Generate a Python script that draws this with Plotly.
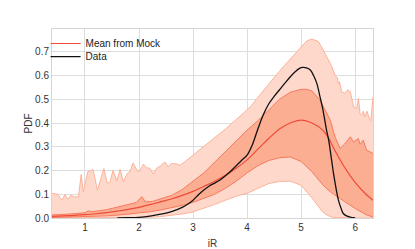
import plotly.graph_objects as go

# ---- data ----
x_grid = [0.39, 0.6, 0.8, 1.0, 1.2, 1.4, 1.6, 1.8, 2.0, 2.2, 2.4, 2.6, 2.8, 3.0, 3.2, 3.4,
          3.6, 3.8, 4.0, 4.2, 4.4, 4.6, 4.8, 5.0, 5.2, 5.4, 5.5, 5.6, 5.8, 6.0, 6.2, 6.33]
mean_mock = [0.007, 0.009, 0.011, 0.014, 0.018, 0.023, 0.029, 0.036, 0.045, 0.056, 0.068, 0.080,
             0.095, 0.112, 0.133, 0.155, 0.180, 0.210, 0.245, 0.290, 0.335, 0.375, 0.400, 0.412,
             0.400, 0.370, 0.340, 0.295, 0.215, 0.150, 0.100, 0.075]
inner_lo = [0.002, 0.003, 0.004, 0.005, 0.007, 0.009, 0.012, 0.016, 0.020, 0.026, 0.034, 0.042,
            0.053, 0.066, 0.082, 0.100, 0.125, 0.155, 0.190, 0.220, 0.242, 0.254, 0.257, 0.238,
            0.195, 0.140, 0.118, 0.100, 0.070, 0.040, 0.014, 0.004]
outer_lo = [0.0, 0.0, 0.0, 0.0, 0.0, 0.0, 0.0, 0.001, 0.002, 0.003, 0.006, 0.010,
            0.017, 0.026, 0.040, 0.057, 0.075, 0.092, 0.104, 0.125, 0.145, 0.154, 0.155, 0.138,
            0.085, 0.025, 0.010, 0.002, 0.0, 0.0, 0.0, 0.0]

x_inner_hi = [0.39, 0.6, 0.8, 1.0, 1.06, 1.1, 1.15, 1.4, 1.6, 1.8, 1.95, 2.05, 2.12, 2.25, 2.4,
              2.6, 2.8, 3.0, 3.2, 3.4, 3.6, 3.8, 4.0, 4.2, 4.4, 4.6, 4.8, 5.0, 5.1, 5.2, 5.35,
              5.54, 5.63, 5.72, 5.8, 5.91, 5.97, 6.06, 6.09, 6.15, 6.21, 6.33]
inner_hi = [0.013, 0.015, 0.018, 0.022, 0.030, 0.028, 0.027, 0.035, 0.045, 0.055, 0.065, 0.090,
            0.068, 0.070, 0.080, 0.095, 0.120, 0.155, 0.190, 0.235, 0.280, 0.325, 0.370, 0.410,
            0.455, 0.500, 0.530, 0.542, 0.542, 0.535, 0.497, 0.412, 0.340, 0.293, 0.310, 0.342,
            0.320, 0.335, 0.310, 0.328, 0.286, 0.272]

x_outer_hi = [0.39, 0.5, 0.57, 0.63, 0.68, 0.74, 0.80, 0.88, 0.93, 0.97, 1.05, 1.15, 1.23, 1.35,
              1.41, 1.46, 1.52, 1.59, 1.65, 1.71, 1.78, 1.83, 1.89, 1.97, 2.02, 2.08, 2.14, 2.20,
              2.26, 2.33, 2.40, 2.48, 2.54, 2.60, 2.70, 2.76, 2.88, 3.0, 3.2, 3.4, 3.6, 3.8, 4.06,
              4.36, 4.67, 4.98, 5.1, 5.2, 5.32, 5.44, 5.57, 5.63, 5.67, 5.69, 5.71, 5.75, 5.81,
              5.86, 5.91, 5.95, 5.97, 6.03, 6.06, 6.09, 6.12, 6.15, 6.18, 6.22, 6.26, 6.29, 6.33]
outer_hi = [0.103, 0.100, 0.075, 0.099, 0.078, 0.096, 0.089, 0.089, 0.183, 0.110, 0.194, 0.204,
            0.117, 0.208, 0.148, 0.149, 0.201, 0.156, 0.205, 0.152, 0.187, 0.194, 0.232, 0.198,
            0.198, 0.227, 0.211, 0.210, 0.187, 0.210, 0.220, 0.236, 0.215, 0.230, 0.227, 0.222,
            0.243, 0.265, 0.300, 0.340, 0.375, 0.415, 0.468, 0.553, 0.637, 0.715, 0.745, 0.754,
            0.743, 0.694, 0.637, 0.600, 0.590, 0.565, 0.575, 0.532, 0.525, 0.540, 0.532, 0.490,
            0.468, 0.460, 0.504, 0.440, 0.433, 0.450, 0.425, 0.450, 0.420, 0.410, 0.510]

x_data = [1.6, 1.8, 2.0, 2.2, 2.4, 2.6, 2.8, 2.9, 3.0, 3.1, 3.2, 3.3, 3.4, 3.5, 3.6, 3.7, 3.8,
          3.9, 4.0, 4.1, 4.2, 4.3, 4.4, 4.5, 4.6, 4.7, 4.8, 4.9, 4.97, 5.03, 5.1, 5.17,
          5.23, 5.29, 5.35, 5.4, 5.47, 5.51, 5.56, 5.6, 5.65, 5.69, 5.74, 5.78, 5.85, 5.91, 5.97, 6.0]
data_pdf = [0.0, 0.001, 0.003, 0.008, 0.016, 0.027, 0.045, 0.058, 0.075, 0.098, 0.118, 0.135,
            0.147, 0.160, 0.178, 0.198, 0.220, 0.243, 0.265, 0.310, 0.375, 0.435, 0.480, 0.512,
            0.540, 0.568, 0.595, 0.618, 0.630, 0.634, 0.632, 0.623, 0.600, 0.567, 0.510, 0.460,
            0.370, 0.328, 0.250, 0.187, 0.120, 0.075, 0.040, 0.019, 0.008, 0.004, 0.001, 0.0]

x_ticks = [1, 2, 3, 4, 5, 6]
y_ticks = [0.0, 0.1, 0.2, 0.3, 0.4, 0.5, 0.6, 0.7]

LIGHT_FILL = "#fed9cb"
LIGHT_EDGE = "#fcb29a"
DARK_FILL = "#fcae93"
DARK_EDGE = "#f67a5f"
MEAN_COL = "#ee4a39"

fig = go.Figure()

# outer (light) band
fig.add_trace(go.Scatter(x=x_outer_hi + x_grid[::-1], y=outer_hi + outer_lo[::-1],
                         fill="toself", fillcolor=LIGHT_FILL, mode="lines",
                         line=dict(width=0), hoverinfo="skip", showlegend=False))
fig.add_trace(go.Scatter(x=x_outer_hi, y=outer_hi, mode="lines",
                         line=dict(color=LIGHT_EDGE, width=1), showlegend=False))
fig.add_trace(go.Scatter(x=x_grid, y=outer_lo, mode="lines",
                         line=dict(color=LIGHT_EDGE, width=1), showlegend=False))
# inner (dark) band
fig.add_trace(go.Scatter(x=x_inner_hi + x_grid[::-1], y=inner_hi + inner_lo[::-1],
                         fill="toself", fillcolor=DARK_FILL, mode="lines",
                         line=dict(width=0), hoverinfo="skip", showlegend=False))
fig.add_trace(go.Scatter(x=x_inner_hi, y=inner_hi, mode="lines",
                         line=dict(color=DARK_EDGE, width=1), showlegend=False))
fig.add_trace(go.Scatter(x=x_grid, y=inner_lo, mode="lines",
                         line=dict(color=DARK_EDGE, width=1), showlegend=False))
# mean
fig.add_trace(go.Scatter(x=x_grid, y=mean_mock, mode="lines", name="Mean from Mock",
                         line=dict(color=MEAN_COL, width=1.2, shape="spline"), legend="legend"))
# data
fig.add_trace(go.Scatter(x=x_data, y=data_pdf, mode="lines", name="Data",
                         line=dict(color="#111111", width=1.3, shape="spline"), legend="legend2"))

leg_common = dict(xanchor="left", yanchor="top", bgcolor="rgba(255,255,255,0)",
                  font=dict(size=10, color="#222222"), itemwidth=30)

# the page body adds an 8px offset, so the figure is sized to fit the 415x249 window
fig.update_layout(
    width=407, height=241,
    margin=dict(l=44, r=42, t=21, b=31),
    paper_bgcolor="white", plot_bgcolor="white",
    font=dict(family="Liberation Sans, Arial, sans-serif", size=10, color="#333333"),
    legend=dict(x=-0.02, y=1.0, **leg_common),
    legend2=dict(x=-0.02, y=0.931, **leg_common),
    xaxis=dict(range=[0.39, 6.33], tickvals=x_ticks, ticktext=[str(t) for t in x_ticks],
               showgrid=True, gridcolor="#dddddd", gridwidth=1, zeroline=False,
               showline=True, linecolor="#d5d5d5", linewidth=1, mirror=True,
               ticks="", automargin=False, title=dict(text="iR", font=dict(size=10))),
    yaxis=dict(range=[0, 0.796], tickvals=y_ticks, ticktext=[f"{t:.1f}" for t in y_ticks],
               showgrid=True, gridcolor="#dddddd", gridwidth=1, zeroline=False,
               showline=True, linecolor="#d5d5d5", linewidth=1, mirror=True,
               ticks="", title=dict(text="PDF", standoff=0, font=dict(size=10))),
)

fig.write_html("out.html")
